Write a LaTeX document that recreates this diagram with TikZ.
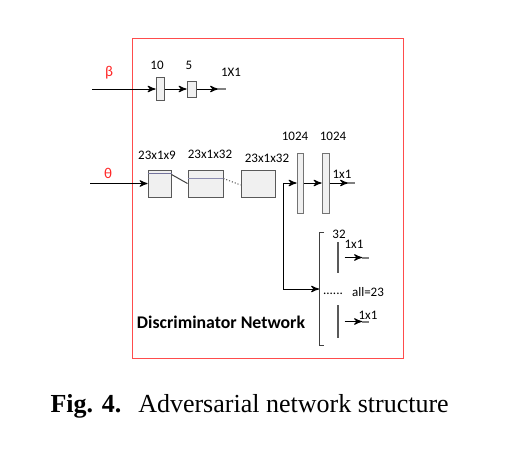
\documentclass[tikz,border=0pt]{standalone}
\usepackage{fontspec}
\setmainfont{Liberation Serif}
\newfontfamily\calibri{Carlito}
\usetikzlibrary{arrows,calc}

\begin{document}
\begin{tikzpicture}[x=0.5pt,y=-0.5pt,>=stealth',line width=0.5pt,
  layer/.style={draw=black!65,fill=black!6,inner sep=0pt},
  fcbar/.style={draw=black!55,fill=black!6,inner sep=0pt,minimum width=3pt,minimum height=30pt},
  tick/.style={fill=black!65,inner sep=0pt,minimum width=1pt},
  lab/.style={font=\calibri\fontsize{6.5}{7}\selectfont,inner sep=0pt},
  inp/.style={font=\calibri\fontsize{7.5}{8}\selectfont,text=red!85,inner sep=0pt},
  stub/.style={draw=black!50,line width=1pt}]

\useasboundingbox (0,0) rectangle (510,466);
\draw[red!70] (132,38) rectangle (403,358);

% beta input
\node[inp](beta) at (109,73) {β};
\coordinate (bin) at (92,89);
\node[layer,minimum width=4pt,minimum height=11.5pt](b10) at (160,89) {};
\node[layer,minimum width=4.5pt,minimum height=8pt](b5) at (191.5,89) {};
\coordinate (bout) at (218,89);
\node[lab] at (157,65) {10};
\node[lab] at (189,65) {5};
\node[lab] at (231,72) {1X1};

\path[->]
(bin) edge (b10)
(b10) edge (b5)
(b5) edge (bout);
\draw[stub] (bout) -- ++(8,0);

% theta input
\node[inp](theta) at (108,173) {θ};
\coordinate (tin) at (90,183.5);
\node[layer,minimum width=11.5pt,minimum height=13.5pt](c9) at (159.5,183.5) {};
\node[layer,minimum width=17.5pt,minimum height=13.5pt](c32a) at (205.5,183.5) {};
\node[layer,minimum width=17pt,minimum height=13.5pt](c32b) at (258,183.5) {};
\node[fcbar](fc1) at (300,183) {};
\node[fcbar,minimum width=3.5pt](fc2) at (325.5,183) {};
\coordinate (split) at (283,183);
\coordinate (join) at (283,289);
\coordinate (tout) at (348,183);
\node[lab] at (157,155) {23x1x9};
\node[lab] at (210,154) {23x1x32};
\node[lab] at (267,158) {23x1x32};
\node[lab] at (295,136) {1024};
\node[lab] at (333,136) {1024};
\node[lab] at (342,174) {1x1};

\draw[blue!30!black!55] ($(c9.north west)+(0,4)$) -- ($(c9.north east)+(0,4)$);
\draw[blue!30!black!45] ($(c32a.north west)+(0,9)$) -- ($(c32a.north east)+(0,9)$);
\draw[black!75] ($(c9.north east)+(0,5)$) -- (c32a.west);
\draw[black!75,densely dotted] ($(c32a.north east)+(0,9)$) -- ($(c32b.west)+(0,1.5)$);

\path[->]
(tin) edge (c9)
(split) edge (fc1)
(fc1) edge (fc2)
(fc2) edge (tout);
\draw[stub] (tout) -- ++(7,0);

% per-pixel outputs
\coordinate (brtop) at (319,232);
\coordinate (brbot) at (319,345);
\node[tick,minimum height=15.5pt](o1) at (338,257.5) {};
\node[tick,minimum height=16.5pt](o2) at (338,321.5) {};
\coordinate (a1) at (362,257.5);
\coordinate (a2) at (362,321.5);
\node[lab] at (339,234) {32};
\node[lab] at (354,244) {1x1};
\node[lab] at (333,294) {......};
\node[lab] at (368,292) {all=23};
\node[lab] at (368,315) {1x1};

\draw (split) -- (join);
\draw[->] (join) -- (join -| brtop);
\draw[black!75] ($(brtop)+(5,0)$) -- (brtop) -- (brbot) -- ($(brbot)+(5,0)$);
\draw[->,shorten <=2.5pt] (o1.east) -- (a1);
\draw[->,shorten <=2.5pt] (o2.east) -- (a2);
\draw[stub] (a1) -- ++(7,0);
\draw[stub] (a2) -- ++(7,0);

\node[font=\calibri\bfseries\fontsize{8.9}{10}\selectfont,inner sep=0pt] (title) at (221,322) {Discriminator Network};

\node[anchor=base west,inner sep=0pt,font=\fontsize{13}{15}\selectfont] (caption) at (50,412) {\textbf{Fig. 4.}\hspace{8.5pt}Adversarial network structure};
\end{tikzpicture}
\end{document}
